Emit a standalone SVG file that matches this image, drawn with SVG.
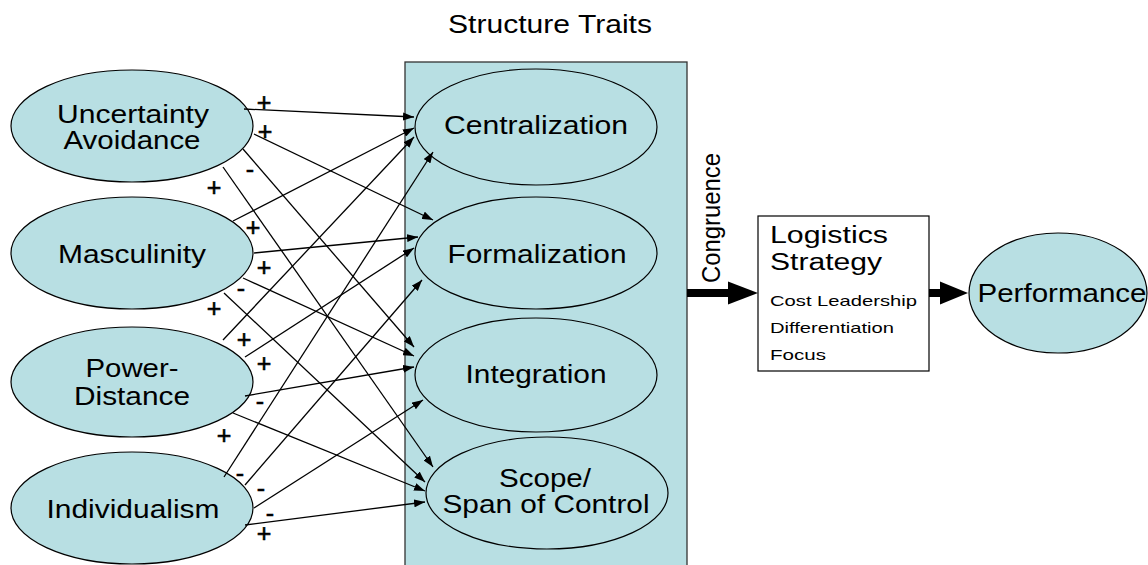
<svg xmlns="http://www.w3.org/2000/svg" width="1148" height="565" viewBox="0 0 1148 565">
<style>
.node{fill:#B8DFE3;stroke:#000;stroke-width:1.2}
.t{font-family:"Liberation Sans",Arial,sans-serif;font-size:25px;fill:#000;text-anchor:middle}
.s{font-family:"Liberation Sans",Arial,sans-serif;font-size:25px;fill:#000;stroke:#000;stroke-width:0.6;text-anchor:middle}
.small{font-family:"Liberation Sans",Arial,sans-serif;font-size:15px;fill:#000}
.c{fill:none;stroke:#000;stroke-width:1.3;marker-end:url(#ah)}
</style>
<defs>
<marker id="ah" markerUnits="userSpaceOnUse" markerWidth="11" markerHeight="8" refX="11" refY="4" orient="auto">
<path d="M0,0 L11,4 L0,8 z" fill="#000"/>
</marker>
</defs>
<rect width="1148" height="565" fill="#fff"/>
<text class="t" x="550" y="33" textLength="204" lengthAdjust="spacingAndGlyphs">Structure Traits</text>
<g id="structure-box">
<rect x="405" y="62" width="282" height="510" fill="#B8DFE3" stroke="#333" stroke-width="1.3"/>
</g>
<g id="uncertainty-avoidance">
<ellipse class="node" cx="132" cy="126" rx="121" ry="56"/>
<text class="t" x="133" y="123" textLength="152" lengthAdjust="spacingAndGlyphs">Uncertainty</text>
<text class="t" x="132" y="149" textLength="137" lengthAdjust="spacingAndGlyphs">Avoidance</text>
</g>
<g id="masculinity">
<ellipse class="node" cx="132" cy="253" rx="121" ry="56"/>
<text class="t" x="132" y="263" textLength="148" lengthAdjust="spacingAndGlyphs">Masculinity</text>
</g>
<g id="power-distance">
<ellipse class="node" cx="132" cy="382" rx="121" ry="55"/>
<text class="t" x="132" y="377" textLength="93" lengthAdjust="spacingAndGlyphs">Power-</text>
<text class="t" x="132" y="405" textLength="116" lengthAdjust="spacingAndGlyphs">Distance</text>
</g>
<g id="individualism">
<ellipse class="node" cx="132" cy="508" rx="121" ry="56"/>
<text class="t" x="133" y="518" textLength="173" lengthAdjust="spacingAndGlyphs">Individualism</text>
</g>
<g id="centralization">
<ellipse class="node" cx="536" cy="127" rx="121" ry="58"/>
<text class="t" x="536" y="134" textLength="184" lengthAdjust="spacingAndGlyphs">Centralization</text>
</g>
<g id="formalization">
<ellipse class="node" cx="536" cy="253" rx="121" ry="56"/>
<text class="t" x="537" y="263" textLength="179" lengthAdjust="spacingAndGlyphs">Formalization</text>
</g>
<g id="integration">
<ellipse class="node" cx="536" cy="375" rx="121" ry="57"/>
<text class="t" x="536" y="383" textLength="141" lengthAdjust="spacingAndGlyphs">Integration</text>
</g>
<g id="scope">
<ellipse class="node" cx="547" cy="493" rx="121" ry="56"/>
<text class="t" x="545" y="487" textLength="92" lengthAdjust="spacingAndGlyphs">Scope/</text>
<text class="t" x="546" y="513" textLength="207" lengthAdjust="spacingAndGlyphs">Span of Control</text>
</g>
<g id="logistics-strategy">
<rect x="758" y="216" width="171" height="155" fill="#fff" stroke="#000" stroke-width="1.2"/>
<text class="t" x="770" y="243" style="text-anchor:start;font-size:23px" textLength="118" lengthAdjust="spacingAndGlyphs">Logistics</text>
<text class="t" x="770" y="270" style="text-anchor:start;font-size:23px" textLength="112" lengthAdjust="spacingAndGlyphs">Strategy</text>
<text class="small" x="770" y="306" textLength="147" lengthAdjust="spacingAndGlyphs">Cost Leadership</text>
<text class="small" x="770" y="333" textLength="124" lengthAdjust="spacingAndGlyphs">Differentiation</text>
<text class="small" x="770" y="360" textLength="56" lengthAdjust="spacingAndGlyphs">Focus</text>
</g>
<g id="performance">
<ellipse class="node" cx="1058" cy="293" rx="89" ry="60"/>
<text class="t" x="1062" y="302" textLength="169" lengthAdjust="spacingAndGlyphs">Performance</text>
</g>
<g id="connectors">
<line class="c" x1="244" y1="109" x2="414" y2="117"/>
<line class="c" x1="254" y1="134" x2="433" y2="220"/>
<line class="c" x1="243" y1="149" x2="414" y2="347"/>
<line class="c" x1="223" y1="167" x2="433" y2="467"/>
<line class="c" x1="233" y1="221" x2="414" y2="128"/>
<line class="c" x1="254" y1="253" x2="418" y2="237"/>
<line class="c" x1="243" y1="278" x2="414" y2="356"/>
<line class="c" x1="224" y1="293" x2="425" y2="482"/>
<line class="c" x1="223" y1="340" x2="414" y2="137"/>
<line class="c" x1="245" y1="357" x2="414" y2="248"/>
<line class="c" x1="245" y1="396" x2="414" y2="367"/>
<line class="c" x1="233" y1="413" x2="425" y2="491"/>
<line class="c" x1="224" y1="477" x2="433" y2="152"/>
<line class="c" x1="245" y1="485" x2="422" y2="280"/>
<line class="c" x1="254" y1="508" x2="423" y2="400"/>
<line class="c" x1="245" y1="525" x2="425" y2="502"/>
<line x1="687" y1="293" x2="730" y2="293" stroke="#000" stroke-width="8"/>
<polygon points="728,281.5 758,293 728,304.5" fill="#000"/>
<line x1="929" y1="293" x2="942" y2="293" stroke="#000" stroke-width="8"/>
<polygon points="940,281.5 968,293 940,304.5" fill="#000"/>
</g>
<g id="labels">
<text class="t" transform="translate(720,218) rotate(-90)" style="font-size:26px" textLength="130" lengthAdjust="spacingAndGlyphs">Congruence</text>
<text class="s" x="264" y="111">+</text>
<text class="s" x="265" y="140">+</text>
<text class="s" x="250" y="178">-</text>
<text class="s" x="214" y="196">+</text>
<text class="s" x="253" y="236">+</text>
<text class="s" x="264" y="276">+</text>
<text class="s" x="241" y="297">-</text>
<text class="s" x="214" y="317">+</text>
<text class="s" x="244" y="348">+</text>
<text class="s" x="264" y="372">+</text>
<text class="s" x="260" y="410">-</text>
<text class="s" x="224" y="444">+</text>
<text class="s" x="240" y="482">-</text>
<text class="s" x="261" y="497">-</text>
<text class="s" x="270" y="522">-</text>
<text class="s" x="264" y="542">+</text>
</g>
</svg>
